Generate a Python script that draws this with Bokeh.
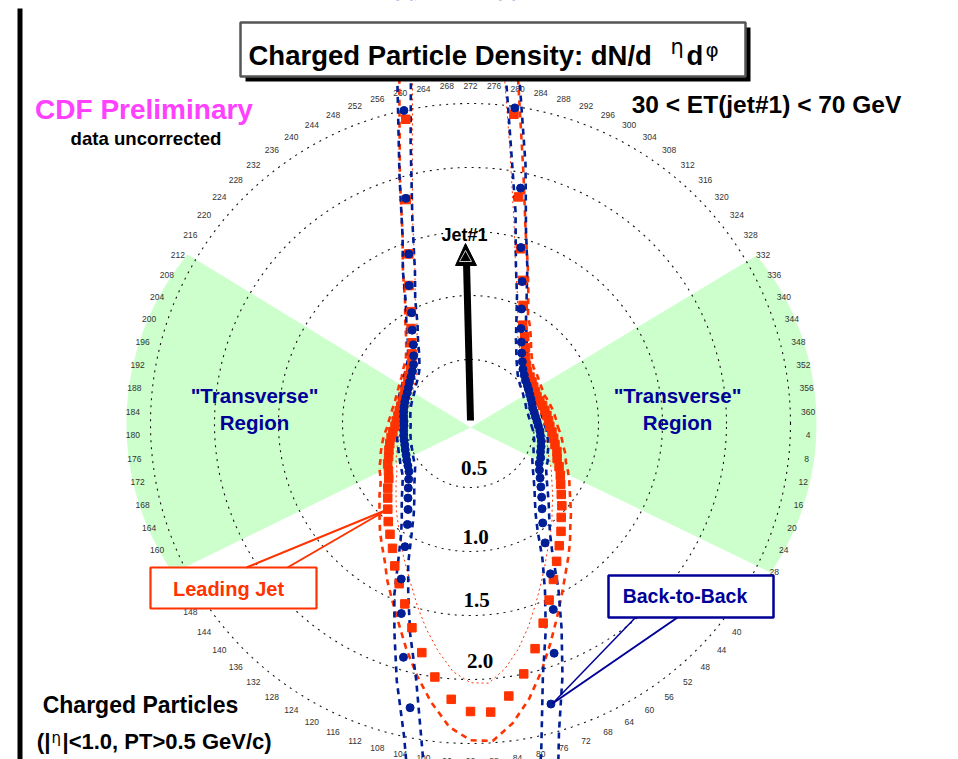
import numpy as np
from bokeh.plotting import figure
from bokeh.models import Range1d
from bokeh.core.properties import value
from bokeh.embed import file_html
from bokeh.resources import INLINE

# ---------------- data ----------------
categories = list(range(4, 361, 4))  # phi category labels (deg)

leading_jet = [
    0.62, 0.64, 0.66, 0.68, 0.71, 0.73, 0.77, 0.81, 0.85, 0.90,
    0.96, 1.02, 1.10, 1.18, 1.27, 1.38, 1.51, 1.66, 1.83, 2.00,
    2.15, 2.26, 2.25, 2.16, 2.00, 1.83, 1.66, 1.50, 1.37, 1.26,
    1.15, 1.07, 1.00, 0.93, 0.87, 0.82, 0.77, 0.74, 0.72, 0.69,
    0.67, 0.65, 0.63, 0.61, 0.59, 0.58, 0.57, 0.565, 0.56, 0.56,
    0.565, 0.57, 0.58, 0.59, 0.61, 0.63, 0.66, 0.71, 0.78, 0.875,
    0.99, 1.18, 1.41, 1.82, 2.43, 3.6, 4.4, 4.4, 3.6, 2.44,
    1.81, 1.42, 1.19, 1.01, 0.87, 0.80, 0.73, 0.67, 0.63, 0.60,
    0.59, 0.58, 0.57, 0.565, 0.56, 0.57, 0.58, 0.59, 0.60, 0.61,
]

back_to_back = [
    0.53, 0.545, 0.555, 0.57, 0.58, 0.59, 0.61, 0.62, 0.65, 0.69,
    0.74, 0.80, 0.87, 0.96, 1.10, 1.33, 1.59, 1.91, 2.28, 2.95,
    3.6, 3.9, 3.9, 3.6, 2.95, 2.27, 1.90, 1.58, 1.33, 1.09,
    0.93, 0.83, 0.76, 0.70, 0.65, 0.61, 0.59, 0.575, 0.56, 0.55,
    0.54, 0.535, 0.53, 0.525, 0.52, 0.52, 0.525, 0.53, 0.535, 0.54,
    0.545, 0.55, 0.56, 0.575, 0.59, 0.61, 0.64, 0.69, 0.76, 0.86,
    0.98, 1.18, 1.41, 1.83, 2.50, 3.7, 4.5, 4.5, 3.7, 2.49,
    1.88, 1.43, 1.18, 0.98, 0.84, 0.75, 0.68, 0.63, 0.59, 0.565,
    0.545, 0.535, 0.525, 0.515, 0.51, 0.505, 0.50, 0.505, 0.51, 0.52,
]

band_fraction = 0.10          # dashed envelope lines (+/-)
ring_values = [0.5, 1.0, 1.5, 2.0, 2.5]
ring_labels = ["0.5", "1.0", "1.5", "2.0"]

# ---------------- geometry (reference pixels) ----------------
W, H = 958, 759
OX, OY = 0, 0
CX, CY = 470.0, 423.0
S = 128.0
TXT_DY = -8.0   # baseline correction for text placement

def X(v):
    return (v - CX) / S

def Y(v):
    return (CY - v) / S

RED = "#FF3300"
BLUE = "#001E96"
NAVY = "#000099"
GREEN = "#CCFFCC"

p = figure(width=W, height=H, output_backend="svg", toolbar_location=None,
           x_range=Range1d(X(OX), X(OX + W)), y_range=Range1d(Y(OY + H), Y(OY)),
           x_axis_location=None, y_axis_location=None, min_border=0,
           outline_line_color=None, background_fill_color="white",
           border_fill_color="white")
p.grid.visible = False

def txt(xp, yp, s, size, color="black", style="bold", align="center",
        baseline="alphabetic", font="Liberation Sans"):
    p.text(x=[X(xp)], y=[Y(yp + TXT_DY)], text=[s], text_font=value(font),
           text_font_size=f"{size}px", text_font_style=style,
           text_color=color, text_align=align, text_baseline=baseline)

# ---------------- transverse wedges ----------------
def wedge(apex, cen, r, a0, a1):
    a = np.radians(np.linspace(a0, a1, 60))
    xs = [X(apex[0])] + list(X(cen[0] + r * np.cos(a)))
    ys = [Y(apex[1])] + list(Y(cen[1] + r * np.sin(a)))
    return xs, ys

xs, ys = wedge((470, 427), (550, 423), 266, -39.2, 34.1)
p.patch(xs, ys, fill_color=GREEN, line_color=None)
xs, ys = wedge((470, 427), (390, 423), 264, 180 + 39.8, 180 - 34.5)
p.patch(xs, ys, fill_color=GREEN, line_color=None)

# ---------------- rings ----------------
t = np.linspace(0, 2 * np.pi, 721)
for rv in ring_values:
    p.line(rv * np.cos(t), rv * np.sin(t), line_color="#111111",
           line_width=1.1, line_dash="2 5")

# angle labels
R_LAB = 2.64
for c in categories:
    th = np.radians(c - 2)
    p.text(x=[R_LAB * np.cos(th)], y=[-R_LAB * np.sin(th)], text=[str(c)],
           text_font=value("Liberation Sans"), text_font_size="8.5px",
           text_color="#333333", text_align="center", text_baseline="middle")

# ---------------- series ----------------
theta = np.radians(np.array(categories) - 2.0)

def polar(r):
    r = np.asarray(r, dtype=float)
    x = r * np.cos(theta)
    y = -r * np.sin(theta)
    return np.append(x, x[0]), np.append(y, y[0]), x, y

lj = np.array(leading_jet)
bb = np.array(back_to_back)

x, y, _, _ = polar(lj * (1 + band_fraction))
p.line(x, y, line_color=RED, line_width=2.6, line_dash="6 5")
x, y, _, _ = polar(lj * (1 - band_fraction))
p.line(x, y, line_color=RED, line_width=1.0, line_dash="2 3")
x, y, _, _ = polar(bb * (1 + band_fraction))
p.line(x, y, line_color=BLUE, line_width=2.6, line_dash="6 5")
x, y, _, _ = polar(bb * (1 - band_fraction))
p.line(x, y, line_color=BLUE, line_width=2.6, line_dash="6 5")

_, _, mx, my = polar(lj)
p.scatter(mx, my, marker="square", size=8.5, fill_color=RED, line_color=RED)
_, _, mx, my = polar(bb)
p.scatter(mx, my, marker="circle", size=8, fill_color=BLUE, line_color=BLUE)

# ---------------- jet arrow ----------------
p.line([X(470), X(466)], [Y(420), Y(262)], line_color="black", line_width=7)
p.patch([X(455), X(476), X(465)], [Y(265), Y(265), Y(243)],
        fill_color="black", line_color="black")
p.patch([X(459), X(471), X(465)], [Y(261), Y(261), Y(250)],
        fill_color=None, line_color="white", line_width=0.8)
txt(464, 242, "Jet#1", 18)

for lab, (xp, yp) in zip(ring_labels, [(473.5, 475), (475, 544), (476, 607), (479.5, 668)]):
    txt(xp, yp, lab, 21, font="Liberation Serif")

# ---------------- annotations ----------------
txt(143.5, 117, "CDF Preliminary", 28, color="#FF40FF")
txt(145.5, 146, "data uncorrected", 18.6)
txt(766, 112, "30 < ET(jet#1) < 70 GeV", 24.5)

for cxp in (254, 677):
    txt(cxp, 403, "\"Transverse\"", 20.5, color=NAVY)
    txt(cxp, 430, "Region", 20.5, color=NAVY)

txt(140, 712, "Charged Particles", 23)
txt(50, 749, "(|", 22.5, align="right")
txt(51, 745, "\u03b7", 15, style="normal", align="left", font="DejaVu Sans")
txt(62, 749, "|<1.0, PT>0.5 GeV/c)", 22, align="left")

# Leading Jet callout
p.quad(left=[X(150)], right=[X(316)], top=[Y(567)], bottom=[Y(608)],
       fill_color="white", line_color=RED, line_width=2.2)
p.line([X(246), X(387)], [Y(567), Y(509)], line_color=RED, line_width=2)
p.line([X(287), X(387)], [Y(567), Y(509)], line_color=RED, line_width=2)
txt(228, 596, "Leading Jet", 20, color=RED)

# Back-to-Back callout
p.quad(left=[X(608)], right=[X(773)], top=[Y(575)], bottom=[Y(617)],
       fill_color="white", line_color=NAVY, line_width=2.5)
p.line([X(635), X(552)], [Y(617), Y(703)], line_color=NAVY, line_width=1.5)
p.line([X(677), X(552)], [Y(617), Y(703)], line_color=NAVY, line_width=2)
txt(684.5, 603, "Back-to-Back", 19.5, color=NAVY)

# ---------------- title ----------------
p.quad(left=[X(340)], right=[X(620)], top=[Y(-1500)], bottom=[Y(30)],
       fill_color="white", line_color="white", line_width=2)
p.quad(left=[X(245)], right=[X(750)], top=[Y(27)], bottom=[Y(81)],
       fill_color="black", line_color=None)
p.quad(left=[X(240)], right=[X(745)], top=[Y(22)], bottom=[Y(76)],
       fill_color="white", line_color="#555555", line_width=2.5)
txt(248, 63, "Charged Particle Density: dN/d", 27.5, align="left")
txt(670, 54, "\u03b7", 21, style="normal", align="left", font="DejaVu Sans")
txt(686, 63, "d", 27.5, align="left")
txt(705, 57, "\u03c6", 20, style="normal", align="left", font="DejaVu Sans")

# slide frame
p.quad(left=[X(17)], right=[X(22)], top=[Y(8)], bottom=[Y(770)],
       fill_color="black", line_color=None)

open("out.html", "w").write(file_html(p, INLINE))
